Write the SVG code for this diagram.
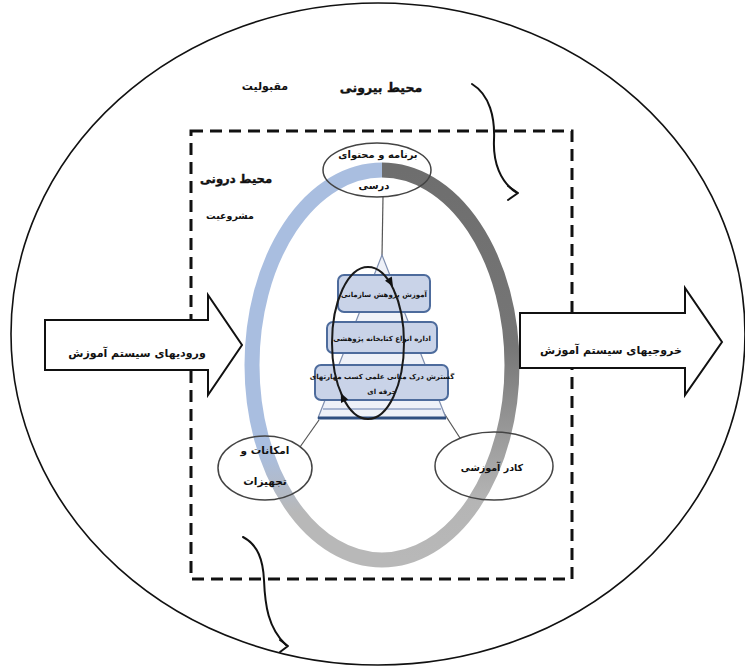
<svg xmlns="http://www.w3.org/2000/svg" width="745" height="666" viewBox="0 0 745 666">
<defs>
<style>
.t{font-family:"DejaVu Sans",sans-serif;font-weight:bold;fill:#111;text-anchor:middle}
.h{stroke:#111;stroke-width:0.4}
.node{fill:none;stroke:#444;stroke-width:1.5}
.box{fill:#c9d3e8;stroke:#4d6b9c;stroke-width:2}
.conn{fill:none;stroke:#555;stroke-width:1.2}
.curve{fill:none;stroke:#111;stroke-width:2;stroke-linecap:round;stroke-linejoin:round}
.bigarrow{fill:#fff;stroke:#111;stroke-width:2}
</style>
<linearGradient id="gl" gradientUnits="userSpaceOnUse" x1="0" y1="170" x2="0" y2="560">
<stop offset="0" stop-color="#a9bee0"/><stop offset="0.72" stop-color="#a9bee0"/><stop offset="0.88" stop-color="#b8b8b8"/><stop offset="1" stop-color="#b8b8b8"/>
</linearGradient>
<linearGradient id="gr" gradientUnits="userSpaceOnUse" x1="0" y1="170" x2="0" y2="560">
<stop offset="0" stop-color="#6e6e6e"/><stop offset="0.45" stop-color="#767676"/><stop offset="0.85" stop-color="#b5b5b5"/><stop offset="1" stop-color="#b8b8b8"/>
</linearGradient>
</defs>
<rect width="745" height="666" fill="#fff"/>
<g id="outer-environment">
<ellipse cx="378" cy="334" rx="367" ry="331" fill="none" stroke="#111" stroke-width="1.6"/>
</g>
<g id="inner-environment">
<rect x="191" y="131" width="381" height="448" fill="none" stroke="#111" stroke-width="3" stroke-dasharray="12,7"/>
</g>
<g id="cycle-ring">
<path d="M382,170 A130,195 0 0 0 382,560" fill="none" stroke="url(#gl)" stroke-width="15"/>
<path d="M382,170 A130,195 0 0 1 382,560" fill="none" stroke="url(#gr)" stroke-width="15"/>
</g>
<g id="connectors">
<line class="conn" x1="383" y1="197" x2="382" y2="256"/>
<line class="conn" x1="319" y1="420" x2="300" y2="447"/>
<line class="conn" x1="440" y1="407" x2="460" y2="438"/>
<path class="curve" d="M472,84 C490,95 495,118 494,140 C493,162 500,182 517,193"/>
<path class="curve" d="M508,186 L518,193 L508,200"/>
<path class="curve" d="M243,537 C258,545 263,560 264,580 C265,605 268,628 286,645"/>
<path class="curve" d="M280,640 L288,646 L280,652"/>
</g>
<g id="input-arrow">
<polygon class="bigarrow" points="45,320 208,320 208,295 242,345 208,395 208,370 45,370"/>
<text class="t" x="137" y="357" font-size="11">ورودیهای سیستم آموزش</text>
</g>
<g id="output-arrow">
<polygon class="bigarrow" points="520,313 685,313 685,288 722,342 685,395 685,368 520,368"/>
<text class="t" x="611" y="354" font-size="11">خروجیهای سیستم آموزش</text>
</g>
<g id="labels">
<text class="t h" x="381" y="92" font-size="12.5">محیط بیرونی</text>
<text class="t" x="265" y="90" font-size="11">مقبولیت</text>
<text class="t h" x="236" y="183" font-size="11.5">محیط درونی</text>
<text class="t" x="230" y="219" font-size="9.5" font-weight="normal">مشروعیت</text>
</g>
<g id="curriculum">
<ellipse class="node" cx="377" cy="170" rx="54" ry="27"/>
<text class="t" x="378" y="158" font-size="10">برنامه و محتوای</text>
<text class="t" x="374" y="189" font-size="10">درسی</text>
</g>
<g id="pyramid">
<polygon points="382,255 318,418 446,418" fill="#eef1f8" stroke="#8090b0" stroke-width="1.2"/>
<line x1="318" y1="418" x2="446" y2="418" stroke="#2f4f80" stroke-width="3"/>
<line x1="323" y1="409" x2="441" y2="409" stroke="#a8b6d2" stroke-width="2"/>
<rect class="box" x="338" y="275" width="92" height="37" rx="6"/>
<text class="t" x="384" y="297" font-size="7" font-weight="normal">آموزش پژوهش سازمانی</text>
<rect class="box" x="327" y="322" width="110" height="31" rx="6"/>
<text class="t" x="382" y="341" font-size="7" font-weight="normal">اداره انواع کتابخانه پژوهشی</text>
<rect class="box" x="315" y="365" width="133" height="35" rx="6"/>
<text class="t" x="382" y="379" font-size="7" font-weight="normal">گسترش درک مبانی علمی کسب مهارتهای</text>
<text class="t" x="382" y="394" font-size="7" font-weight="normal">حرفه ای</text>
</g>
<g id="cycle">
<ellipse cx="368" cy="343" rx="36" ry="76" fill="none" stroke="#1a1a1a" stroke-width="2"/>
<polygon points="393,286.4 385,280.8 391.8,276.6" fill="#111"/>
<polygon points="340.8,393.1 348.2,399.5 341,402.9" fill="#111"/>
</g>
<g id="facilities">
<ellipse class="node" cx="265" cy="468" rx="47" ry="32"/>
<text class="t" x="265" y="454" font-size="10.5">امکانات و</text>
<text class="t" x="265" y="485" font-size="10.5">تجهیزات</text>
</g>
<g id="staff">
<ellipse class="node" cx="494" cy="466" rx="59" ry="34"/>
<text class="t" x="492" y="471" font-size="9.5">کادر آموزشی</text>
</g>
</svg>
